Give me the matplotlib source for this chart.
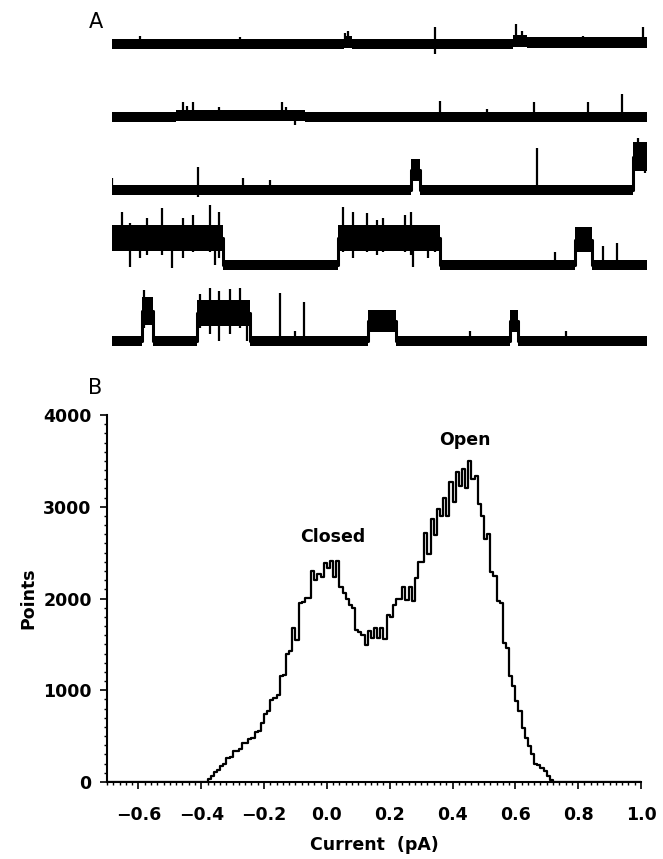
import numpy as np
import matplotlib.pyplot as plt
from matplotlib.ticker import MultipleLocator

# ---- panel A : single channel records (time in ms, current in pA above closed level)
# segments: (t_start, t_end, level)   spikes: (t, low, high)
trace1_segs = [(0, 217, 0), (217, 224, 0.03), (224, 375, 0), (375, 388, 0.04), (388, 500, 0.02)]
trace1_spikes = [(26, 0, 0.12), (120, 0, 0.1), (218, 0, 0.16), (221, 0, 0.2), (302, -0.15, 0.25),
                 (378, 0, 0.3), (383, 0, 0.2), (440, 0, 0.12), (496, 0, 0.25)]

trace2_segs = [(0, 60, 0), (60, 180, 0.02), (180, 500, 0)]
trace2_spikes = [(66, 0, 0.22), (70, 0, 0.16), (76, 0, 0.22), (100, 0, 0.15), (159, 0, 0.22), (163, 0, 0.15),
                 (171, -0.12, 0.1), (307, 0, 0.24), (350, 0, 0.12), (394, 0, 0.22), (445, 0, 0.22), (477, 0, 0.34)]

trace3_segs = [(0, 279, 0), (279, 288, 0.3), (288, 487, 0), (487, 500, 0.5)]
trace3_spikes = [(0, 0, 0.18), (80, -0.1, 0.35), (122, 0, 0.18), (148, 0, 0.15), (397, 0, 0.63),
                 (492, 0.3, 0.78), (498, 0.25, 0.7)]

trace4_segs = [(0, 104, 0.4), (104, 211, 0), (211, 307, 0.4), (307, 433, 0), (433, 449, 0.38), (449, 500, 0)]
trace4_spikes = [(9, 0.3, 0.8), (17, -0.03, 0.63), (26, 0.1, 0.6), (33, 0.15, 0.7), (47, 0.15, 0.85),
                 (56, -0.05, 0.6), (66, 0.1, 0.7), (76, 0.2, 0.75), (92, 0.2, 0.9), (96, 0.0, 0.5),
                 (100, 0.1, 0.8), (216, 0.2, 0.87), (225, 0.1, 0.8), (238, 0.2, 0.78), (248, 0.15, 0.68),
                 (253, 0.2, 0.7), (274, 0.2, 0.75), (279, 0.15, 0.8), (281, -0.03, 0.6), (295, 0.1, 0.6),
                 (302, 0.2, 0.55), (414, 0, 0.2), (459, 0, 0.28), (472, 0, 0.33)]

trace5_segs = [(0, 28, 0), (28, 38, 0.45), (38, 79, 0), (79, 129, 0.42), (129, 239, 0), (239, 265, 0.3),
               (265, 372, 0), (372, 379, 0.3), (379, 500, 0)]
trace5_spikes = [(30, 0.2, 0.77), (82, 0.2, 0.7), (92, 0.1, 0.8), (100, 0.0, 0.75), (110, 0.1, 0.78),
                 (120, 0.2, 0.8), (126, 0.0, 0.6), (157, 0, 0.72), (179, 0, 0.58), (171, 0, 0.15),
                 (248, 0.2, 0.44), (335, 0, 0.15), (375, 0.2, 0.39), (424, 0, 0.15)]

traces = [(trace1_segs, trace1_spikes), (trace2_segs, trace2_spikes), (trace3_segs, trace3_spikes),
          (trace4_segs, trace4_spikes), (trace5_segs, trace5_spikes)]
trace_offsets = [0, -1.094, -2.189, -3.314, -4.454]

# ---- panel B : all-points amplitude histogram, 0.01 pA bins starting at -0.40 pA
bin_start = -0.40
bin_width = 0.01
counts = [0, 0, 30, 70, 110, 130, 170, 200, 260, 270,
          340, 340, 360, 420, 430, 470, 480, 550, 560, 640,
          740, 770, 890, 920, 950, 1160, 1170, 1400, 1430, 1680,
          1550, 1950, 1960, 2010, 2010, 2300, 2200, 2270, 2230, 2390,
          2330, 2410, 2230, 2410, 2120, 2060, 2000, 1930, 1900, 1660,
          1640, 1600, 1490, 1650, 1570, 1680, 1570, 1680, 1560, 1820,
          1800, 1930, 2000, 2000, 2130, 1980, 2130, 1970, 2220, 2400,
          2400, 2710, 2490, 2870, 2690, 2980, 2900, 3090, 2900, 3270,
          3050, 3380, 3230, 3410, 3200, 3500, 3300, 3330, 3030, 2900,
          2650, 2700, 2290, 2240, 1970, 1950, 1510, 1460, 1160, 1050,
          880, 770, 590, 480, 390, 300, 200, 180, 150, 120,
          70, 20, 0]
peak_labels = [('Closed', 0.02, 2570), ('Open', 0.44, 3630)]

fig = plt.figure(figsize=(6.63, 8.59), dpi=100)

# panel A
axA = fig.add_axes([112 / 663, 1 - 360 / 859, 535 / 663, 360 / 859])
axA.set_xlim(0, 500)
axA.set_ylim(-4.74, 0.66)
axA.axis('off')
for (segs, spikes), off in zip(traces, trace_offsets):
    xs, ys, hw = [], [], []
    for t0, t1, lev in segs:
        h = 0.08 + 0.28 * lev
        xs += [t0, t1]
        ys += [lev + off, lev + off]
        hw += [h, h]
    xs, ys, hw = np.array(xs, float), np.array(ys), np.array(hw)
    axA.fill_between(xs, ys - hw, ys + hw, color='black', lw=0)
    # vertical transitions between levels
    axA.plot(xs, ys, color='black', lw=2.2)
    for t, lo, hi in spikes:
        axA.plot([t, t], [lo + off, hi + off], color='black', lw=1.6, solid_capstyle='butt')
fig.text(96 / 663, 1 - 22 / 859, 'A', fontsize=15, ha='center', va='center')

# panel B
axB = fig.add_axes([107 / 663, 1 - 782 / 859, 534 / 663, 367 / 859])
edges = bin_start + bin_width * np.arange(len(counts) + 1)
xs = np.concatenate([[-0.7], edges, [1.0]])
ys = np.concatenate([[0], counts, [0, 0]])
axB.step(xs, ys, where='post', color='black', lw=1.6)
axB.set_xlim(-0.7, 1.0)
axB.set_ylim(0, 4000)
axB.spines['top'].set_visible(False)
axB.spines['right'].set_visible(False)
axB.spines['left'].set_linewidth(1.5)
axB.spines['bottom'].set_linewidth(1.5)
axB.xaxis.set_major_locator(MultipleLocator(0.2))
axB.xaxis.set_minor_locator(MultipleLocator(0.02))
axB.yaxis.set_major_locator(MultipleLocator(1000))
axB.yaxis.set_minor_locator(MultipleLocator(100))
axB.tick_params(which='major', direction='out', length=5, width=1.2, labelsize=12.5, pad=12)
axB.tick_params(which='minor', direction='out', length=2.5, width=1)
axB.tick_params(axis='y', which='major', pad=6)
axB.set_xticks([-0.6, -0.4, -0.2, 0.0, 0.2, 0.4, 0.6, 0.8, 1.0])
axB.set_xticklabels(['\u22120.6', '\u22120.4', '\u22120.2', '0.0', '0.2', '0.4', '0.6', '0.8', '1.0'])
for lab in axB.get_xticklabels() + axB.get_yticklabels():
    lab.set_fontweight('bold')
axB.set_xlabel('Current  (pA)', fontsize=12.5, fontweight='bold', labelpad=9)
axB.set_ylabel('Points', fontsize=12.5, fontweight='bold', labelpad=4)
for txt, x, y in peak_labels:
    axB.text(x, y, txt, fontsize=12.5, fontweight='bold', ha='center', va='bottom')
fig.text(95 / 663, 1 - 388 / 859, 'B', fontsize=15, ha='center', va='center')

fig.savefig('out.png', dpi=100)
